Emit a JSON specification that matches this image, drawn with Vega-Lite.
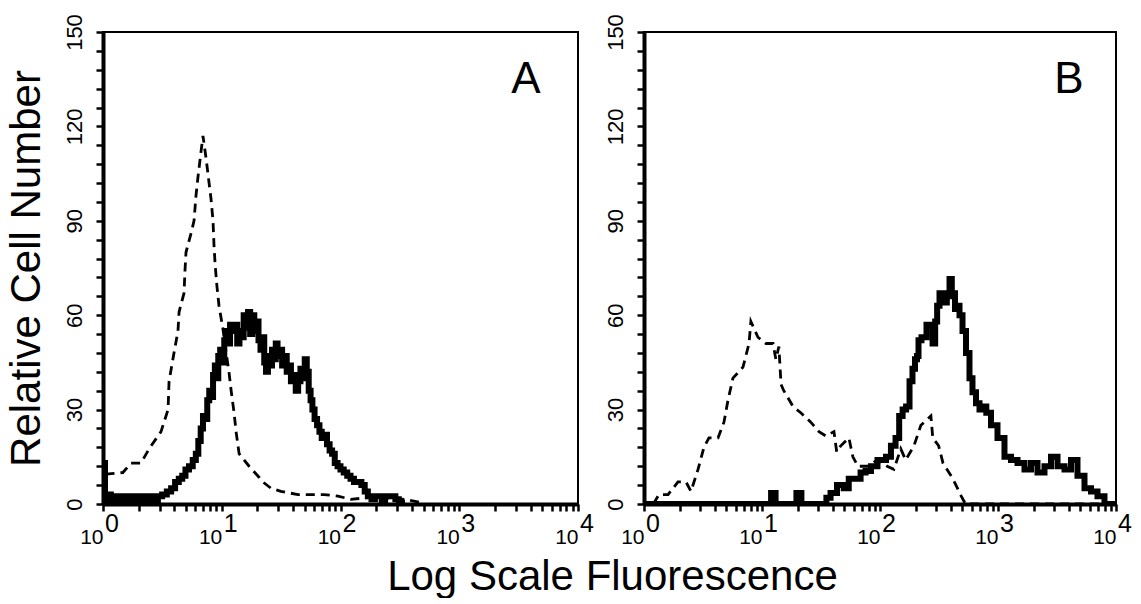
{
  "$schema": "https://vega.github.io/schema/vega-lite/v6.json",
  "background": "white",
  "padding": {"left": 3, "top": 12, "right": 0, "bottom": 0},
  "spacing": 66,
  "bounds": "flush",
  "config": {
    "font": "Liberation Sans",
    "view": {"stroke": "black", "strokeWidth": 2},
    "axis": {"domainColor": "black", "domainWidth": 4, "tickColor": "black", "tickWidth": 2.5, "tickSize": 7, "labelColor": "black", "labelFont": "Liberation Sans", "grid": false, "titleColor": "black", "titleFont": "Liberation Sans", "titleFontWeight": "normal", "labelOverlap": false, "labelFlush": false}
  },
  "title": {"text": "Log  Scale  Fluorescence", "orient": "bottom", "anchor": "middle", "fontSize": 42, "fontWeight": "normal", "font": "Liberation Sans", "color": "black", "offset": 9, "dx": 44},
  "datasets": {
    "hist": [
      {"panel":"A","series":"solid","x":1,"y":0},{"panel":"A","series":"solid","x":1.01,"y":13},{"panel":"A","series":"solid","x":1.03,"y":13},{"panel":"A","series":"solid","x":1.05,"y":3},{"panel":"A","series":"solid","x":1.08,"y":0},{"panel":"A","series":"solid","x":1.13,"y":3},{"panel":"A","series":"solid","x":1.2,"y":0},{"panel":"A","series":"solid","x":1.3,"y":2.5},{"panel":"A","series":"solid","x":1.4,"y":0},{"panel":"A","series":"solid","x":1.55,"y":2.5},{"panel":"A","series":"solid","x":1.7,"y":0},{"panel":"A","series":"solid","x":1.85,"y":2.5},{"panel":"A","series":"solid","x":2.0,"y":0},{"panel":"A","series":"solid","x":2.2,"y":2.5},{"panel":"A","series":"solid","x":2.4,"y":0.5},{"panel":"A","series":"solid","x":2.6,"y":2.5},{"panel":"A","series":"solid","x":2.8,"y":0.5},{"panel":"A","series":"solid","x":3.0,"y":2.5},{"panel":"A","series":"solid","x":3.3,"y":3},{"panel":"A","series":"solid","x":3.6,"y":4},{"panel":"A","series":"solid","x":3.9,"y":5},{"panel":"A","series":"solid","x":4.2,"y":7},{"panel":"A","series":"solid","x":4.5,"y":8},{"panel":"A","series":"solid","x":4.8,"y":9},{"panel":"A","series":"solid","x":5.1,"y":11},{"panel":"A","series":"solid","x":5.5,"y":12},{"panel":"A","series":"solid","x":5.9,"y":14},{"panel":"A","series":"solid","x":6.2,"y":16},{"panel":"A","series":"solid","x":6.5,"y":20},{"panel":"A","series":"solid","x":6.8,"y":24},{"panel":"A","series":"solid","x":7.1,"y":28},{"panel":"A","series":"solid","x":7.4,"y":27},{"panel":"A","series":"solid","x":7.7,"y":33},{"panel":"A","series":"solid","x":8.0,"y":36},{"panel":"A","series":"solid","x":8.3,"y":34},{"panel":"A","series":"solid","x":8.6,"y":41},{"panel":"A","series":"solid","x":8.9,"y":44},{"panel":"A","series":"solid","x":9.2,"y":40},{"panel":"A","series":"solid","x":9.5,"y":47},{"panel":"A","series":"solid","x":9.9,"y":49},{"panel":"A","series":"solid","x":10.3,"y":45},{"panel":"A","series":"solid","x":10.7,"y":52},{"panel":"A","series":"solid","x":11.1,"y":55},{"panel":"A","series":"solid","x":11.5,"y":51},{"panel":"A","series":"solid","x":12,"y":57},{"panel":"A","series":"solid","x":12.6,"y":55},{"panel":"A","series":"solid","x":13.2,"y":57},{"panel":"A","series":"solid","x":13.8,"y":51},{"panel":"A","series":"solid","x":14.4,"y":55},{"panel":"A","series":"solid","x":15,"y":53},{"panel":"A","series":"solid","x":15.6,"y":60},{"panel":"A","series":"solid","x":16.3,"y":56},{"panel":"A","series":"solid","x":17,"y":61},{"panel":"A","series":"solid","x":17.7,"y":54},{"panel":"A","series":"solid","x":18.4,"y":60},{"panel":"A","series":"solid","x":19.2,"y":55},{"panel":"A","series":"solid","x":20,"y":58},{"panel":"A","series":"solid","x":20.8,"y":52},{"panel":"A","series":"solid","x":21.6,"y":49},{"panel":"A","series":"solid","x":22.4,"y":53},{"panel":"A","series":"solid","x":23.2,"y":45},{"panel":"A","series":"solid","x":24,"y":42},{"panel":"A","series":"solid","x":25,"y":47},{"panel":"A","series":"solid","x":26,"y":44},{"panel":"A","series":"solid","x":27,"y":49},{"panel":"A","series":"solid","x":28,"y":46},{"panel":"A","series":"solid","x":29,"y":51},{"panel":"A","series":"solid","x":30,"y":47},{"panel":"A","series":"solid","x":31.5,"y":49},{"panel":"A","series":"solid","x":33,"y":44},{"panel":"A","series":"solid","x":34.5,"y":47},{"panel":"A","series":"solid","x":36,"y":42},{"panel":"A","series":"solid","x":37.5,"y":44},{"panel":"A","series":"solid","x":39,"y":39},{"panel":"A","series":"solid","x":41,"y":41},{"panel":"A","series":"solid","x":43,"y":36},{"panel":"A","series":"solid","x":45,"y":39},{"panel":"A","series":"solid","x":47,"y":43},{"panel":"A","series":"solid","x":49,"y":40},{"panel":"A","series":"solid","x":51,"y":46},{"panel":"A","series":"solid","x":53,"y":42},{"panel":"A","series":"solid","x":55,"y":36},{"panel":"A","series":"solid","x":57,"y":33},{"panel":"A","series":"solid","x":59,"y":30},{"panel":"A","series":"solid","x":62,"y":27},{"panel":"A","series":"solid","x":65,"y":25},{"panel":"A","series":"solid","x":68,"y":23},{"panel":"A","series":"solid","x":71,"y":21},{"panel":"A","series":"solid","x":75,"y":22},{"panel":"A","series":"solid","x":79,"y":19},{"panel":"A","series":"solid","x":83,"y":17},{"panel":"A","series":"solid","x":87,"y":16},{"panel":"A","series":"solid","x":92,"y":13},{"panel":"A","series":"solid","x":97,"y":12},{"panel":"A","series":"solid","x":103,"y":11},{"panel":"A","series":"solid","x":110,"y":10},{"panel":"A","series":"solid","x":118,"y":9},{"panel":"A","series":"solid","x":125,"y":8},{"panel":"A","series":"solid","x":135,"y":7},{"panel":"A","series":"solid","x":145,"y":7},{"panel":"A","series":"solid","x":155,"y":6},{"panel":"A","series":"solid","x":165,"y":4},{"panel":"A","series":"solid","x":175,"y":2.5},{"panel":"A","series":"solid","x":190,"y":1.5},{"panel":"A","series":"solid","x":200,"y":2.5},{"panel":"A","series":"solid","x":215,"y":2.5},{"panel":"A","series":"solid","x":230,"y":1},{"panel":"A","series":"solid","x":245,"y":2.5},{"panel":"A","series":"solid","x":260,"y":2.5},{"panel":"A","series":"solid","x":280,"y":2.5},{"panel":"A","series":"solid","x":300,"y":1.5},{"panel":"A","series":"solid","x":320,"y":0.5},{"panel":"A","series":"solid","x":340,"y":0},
      {"panel":"A","series":"control","x":1.05,"y":9.5},{"panel":"A","series":"control","x":1.47,"y":10},{"panel":"A","series":"control","x":1.72,"y":13},{"panel":"A","series":"control","x":2.09,"y":13},{"panel":"A","series":"control","x":2.44,"y":17.5},{"panel":"A","series":"control","x":3.08,"y":23},{"panel":"A","series":"control","x":3.53,"y":30},{"panel":"A","series":"control","x":3.6,"y":39},{"panel":"A","series":"control","x":3.96,"y":48},{"panel":"A","series":"control","x":4.28,"y":55},{"panel":"A","series":"control","x":4.37,"y":61},{"panel":"A","series":"control","x":4.81,"y":67},{"panel":"A","series":"control","x":4.9,"y":74},{"panel":"A","series":"control","x":5.0,"y":80},{"panel":"A","series":"control","x":5.51,"y":86},{"panel":"A","series":"control","x":5.84,"y":90},{"panel":"A","series":"control","x":6.07,"y":98},{"panel":"A","series":"control","x":6.31,"y":104},{"panel":"A","series":"control","x":6.69,"y":112},{"panel":"A","series":"control","x":6.95,"y":117},{"panel":"A","series":"control","x":7.37,"y":110},{"panel":"A","series":"control","x":8.12,"y":97},{"panel":"A","series":"control","x":8.44,"y":90},{"panel":"A","series":"control","x":8.61,"y":82},{"panel":"A","series":"control","x":8.8,"y":76},{"panel":"A","series":"control","x":9.12,"y":69},{"panel":"A","series":"control","x":9.48,"y":63},{"panel":"A","series":"control","x":10.2,"y":56},{"panel":"A","series":"control","x":10.9,"y":48},{"panel":"A","series":"control","x":11.5,"y":42},{"panel":"A","series":"control","x":12.0,"y":36},{"panel":"A","series":"control","x":12.7,"y":29},{"panel":"A","series":"control","x":13.2,"y":23},{"panel":"A","series":"control","x":14.0,"y":16},{"panel":"A","series":"control","x":17.0,"y":12},{"panel":"A","series":"control","x":20.6,"y":8.5},{"panel":"A","series":"control","x":22.2,"y":7},{"panel":"A","series":"control","x":26,"y":5},{"panel":"A","series":"control","x":31.5,"y":4},{"panel":"A","series":"control","x":43.9,"y":3},{"panel":"A","series":"control","x":56.3,"y":3},{"panel":"A","series":"control","x":72.6,"y":3},{"panel":"A","series":"control","x":95.3,"y":2.5},{"panel":"A","series":"control","x":122,"y":1.5},{"panel":"A","series":"control","x":171,"y":2},{"panel":"A","series":"control","x":232,"y":2},{"panel":"A","series":"control","x":343,"y":1.5},{"panel":"A","series":"control","x":476,"y":0.5},
      {"panel":"B","series":"solid","x":1,"y":0},{"panel":"B","series":"solid","x":11.5,"y":0},{"panel":"B","series":"solid","x":12.4,"y":3.5},{"panel":"B","series":"solid","x":13.7,"y":0},{"panel":"B","series":"solid","x":18.7,"y":0},{"panel":"B","series":"solid","x":20.5,"y":3.5},{"panel":"B","series":"solid","x":22.7,"y":0},{"panel":"B","series":"solid","x":34,"y":0},{"panel":"B","series":"solid","x":36.3,"y":2},{"panel":"B","series":"solid","x":40,"y":3.5},{"panel":"B","series":"solid","x":46.7,"y":6},{"panel":"B","series":"solid","x":52,"y":5},{"panel":"B","series":"solid","x":56.8,"y":8},{"panel":"B","series":"solid","x":65.1,"y":8},{"panel":"B","series":"solid","x":72,"y":10},{"panel":"B","series":"solid","x":79.1,"y":10.5},{"panel":"B","series":"solid","x":88.9,"y":12},{"panel":"B","series":"solid","x":102,"y":14},{"panel":"B","series":"solid","x":108,"y":14},{"panel":"B","series":"solid","x":117,"y":15},{"panel":"B","series":"solid","x":131,"y":18.5},{"panel":"B","series":"solid","x":140,"y":21},{"panel":"B","series":"solid","x":151,"y":28},{"panel":"B","series":"solid","x":160,"y":30},{"panel":"B","series":"solid","x":173,"y":31},{"panel":"B","series":"solid","x":183,"y":39},{"panel":"B","series":"solid","x":194,"y":43},{"panel":"B","series":"solid","x":202,"y":46},{"panel":"B","series":"solid","x":210,"y":47},{"panel":"B","series":"solid","x":214,"y":52},{"panel":"B","series":"solid","x":236,"y":53},{"panel":"B","series":"solid","x":260,"y":57},{"panel":"B","series":"solid","x":271,"y":57},{"panel":"B","series":"solid","x":287,"y":51},{"panel":"B","series":"solid","x":300,"y":58},{"panel":"B","series":"solid","x":310,"y":63},{"panel":"B","series":"solid","x":329,"y":67},{"panel":"B","series":"solid","x":360,"y":64},{"panel":"B","series":"solid","x":377,"y":67},{"panel":"B","series":"solid","x":400,"y":71.5},{"panel":"B","series":"solid","x":412,"y":66},{"panel":"B","series":"solid","x":424,"y":67},{"panel":"B","series":"solid","x":440,"y":62},{"panel":"B","series":"solid","x":458,"y":63},{"panel":"B","series":"solid","x":486,"y":60},{"panel":"B","series":"solid","x":515,"y":55},{"panel":"B","series":"solid","x":557,"y":48},{"panel":"B","series":"solid","x":590,"y":40},{"panel":"B","series":"solid","x":626,"y":35.5},{"panel":"B","series":"solid","x":677,"y":32},{"panel":"B","series":"solid","x":718,"y":30},{"panel":"B","series":"solid","x":770,"y":31},{"panel":"B","series":"solid","x":823,"y":29},{"panel":"B","series":"solid","x":925,"y":25},{"panel":"B","series":"solid","x":1060,"y":21},{"panel":"B","series":"solid","x":1215,"y":15},{"panel":"B","series":"solid","x":1367,"y":14},{"panel":"B","series":"solid","x":1567,"y":13},{"panel":"B","series":"solid","x":1795,"y":11},{"panel":"B","series":"solid","x":2018,"y":13},{"panel":"B","series":"solid","x":2313,"y":10},{"panel":"B","series":"solid","x":2653,"y":12},{"panel":"B","series":"solid","x":2985,"y":15},{"panel":"B","series":"solid","x":3420,"y":12},{"panel":"B","series":"solid","x":3920,"y":11},{"panel":"B","series":"solid","x":4405,"y":14},{"panel":"B","series":"solid","x":5050,"y":9},{"panel":"B","series":"solid","x":5790,"y":5},{"panel":"B","series":"solid","x":6510,"y":4},{"panel":"B","series":"solid","x":7460,"y":2.5},{"panel":"B","series":"solid","x":8550,"y":0},{"panel":"B","series":"solid","x":10000,"y":0},
      {"panel":"B","series":"control","x":1.2,"y":0},{"panel":"B","series":"control","x":1.34,"y":3},{"panel":"B","series":"control","x":1.6,"y":3},{"panel":"B","series":"control","x":1.94,"y":7},{"panel":"B","series":"control","x":2.27,"y":7},{"panel":"B","series":"control","x":2.5,"y":4},{"panel":"B","series":"control","x":2.87,"y":11},{"panel":"B","series":"control","x":3.22,"y":18},{"panel":"B","series":"control","x":3.55,"y":21},{"panel":"B","series":"control","x":4.24,"y":21},{"panel":"B","series":"control","x":4.76,"y":26},{"panel":"B","series":"control","x":5.15,"y":33},{"panel":"B","series":"control","x":5.67,"y":40},{"panel":"B","series":"control","x":6.9,"y":43.5},{"panel":"B","series":"control","x":7.76,"y":51},{"panel":"B","series":"control","x":8.05,"y":58},{"panel":"B","series":"control","x":9.24,"y":53},{"panel":"B","series":"control","x":10.8,"y":51},{"panel":"B","series":"control","x":12.4,"y":51},{"panel":"B","series":"control","x":13.1,"y":46},{"panel":"B","series":"control","x":13.9,"y":50},{"panel":"B","series":"control","x":14.5,"y":38},{"panel":"B","series":"control","x":15.3,"y":36},{"panel":"B","series":"control","x":18.3,"y":31},{"panel":"B","series":"control","x":21.3,"y":29},{"panel":"B","series":"control","x":25.9,"y":26},{"panel":"B","series":"control","x":30.4,"y":23},{"panel":"B","series":"control","x":34.8,"y":21.6},{"panel":"B","series":"control","x":40.7,"y":23},{"panel":"B","series":"control","x":43,"y":16.5},{"panel":"B","series":"control","x":46.5,"y":18.5},{"panel":"B","series":"control","x":54.5,"y":21},{"panel":"B","series":"control","x":58.9,"y":15},{"panel":"B","series":"control","x":65,"y":12},{"panel":"B","series":"control","x":79,"y":12},{"panel":"B","series":"control","x":95,"y":14},{"panel":"B","series":"control","x":115,"y":12},{"panel":"B","series":"control","x":131,"y":11},{"panel":"B","series":"control","x":150,"y":17.5},{"panel":"B","series":"control","x":165,"y":14},{"panel":"B","series":"control","x":194,"y":18.5},{"panel":"B","series":"control","x":222,"y":25},{"panel":"B","series":"control","x":270,"y":28},{"panel":"B","series":"control","x":280,"y":21},{"panel":"B","series":"control","x":314,"y":18.5},{"panel":"B","series":"control","x":342,"y":13},{"panel":"B","series":"control","x":415,"y":8},{"panel":"B","series":"control","x":488,"y":2.5},{"panel":"B","series":"control","x":530,"y":0},{"panel":"B","series":"control","x":10000,"y":0}
    ],
    "letters": [
      {"panel":"A","x":3650,"y":130.6,"t":"A"},
      {"panel":"B","x":4000,"y":130.6,"t":"B"}
    ],
    "exps": [
      {"x":1,"y":0,"e":"0"},{"x":10,"y":0,"e":"1"},{"x":100,"y":0,"e":"2"},{"x":1000,"y":0,"e":"3"},{"x":10000,"y":0,"e":"4"}
    ]
  },
  "hconcat": [
    {
      "width": 475, "height": 472,
      "encoding": {
        "x": {"field": "x", "type": "quantitative", "scale": {"type": "log", "domain": [1, 10000], "nice": false},
          "axis": {"title": null, "values": [1,2,3,4,5,6,7,8,9,10,20,30,40,50,60,70,80,90,100,200,300,400,500,600,700,800,900,1000,2000,3000,4000,5000,6000,7000,8000,9000,10000],
            "labelExpr": "(datum.value == 1 || datum.value == 10 || datum.value == 100 || datum.value == 1000 || datum.value == 10000) ? '10' : ''",
            "labelAlign": "right", "labelBaseline": "alphabetic", "labelPadding": 32, "labelFontSize": 21}},
        "y": {"field": "y", "type": "quantitative", "scale": {"domain": [0, 150], "nice": false},
          "axis": {"title": "Relative Cell Number", "titleFontSize": 42, "titleAngle": -90, "titleX": -64, "titleY": 236, "titleBaseline": "alphabetic", "titleAlign": "center",
            "values": [0,6,12,18,24,30,36,42,48,54,60,66,72,78,84,90,96,102,108,114,120,126,132,138,144,150],
            "labelExpr": "datum.value % 30 == 0 ? datum.label : ''",
            "labelAngle": -90, "labelAlign": "center", "labelBaseline": "alphabetic", "labelPadding": 15, "labelFontSize": 22}}
      },
      "layer": [
        {"data": {"name": "hist"}, "transform": [{"filter": "datum.panel == 'A' && datum.series == 'control'"}],
         "mark": {"type": "line", "color": "black", "strokeWidth": 2.8, "strokeDash": [9, 6], "clip": true}},
        {"data": {"name": "hist"}, "transform": [{"filter": "datum.panel == 'A' && datum.series == 'solid'"}],
         "mark": {"type": "line", "color": "black", "strokeWidth": 6, "interpolate": "step", "strokeJoin": "miter", "clip": true}},
        {"data": {"name": "letters"}, "transform": [{"filter": "datum.panel == 'A'"}],
         "mark": {"type": "text", "fontSize": 44, "align": "center", "baseline": "alphabetic", "color": "black"},
         "encoding": {"text": {"field": "t"}}},
        {"data": {"name": "exps"},
         "mark": {"type": "text", "fontSize": 25, "align": "left", "baseline": "alphabetic", "dx": 2, "dy": 28, "color": "black"},
         "encoding": {"text": {"field": "e"}}}
      ]
    },
    {
      "width": 472, "height": 472,
      "encoding": {
        "x": {"field": "x", "type": "quantitative", "scale": {"type": "log", "domain": [1, 10000], "nice": false},
          "axis": {"title": null, "values": [1,2,3,4,5,6,7,8,9,10,20,30,40,50,60,70,80,90,100,200,300,400,500,600,700,800,900,1000,2000,3000,4000,5000,6000,7000,8000,9000,10000],
            "labelExpr": "(datum.value == 1 || datum.value == 10 || datum.value == 100 || datum.value == 1000 || datum.value == 10000) ? '10' : ''",
            "labelAlign": "right", "labelBaseline": "alphabetic", "labelPadding": 32, "labelFontSize": 21}},
        "y": {"field": "y", "type": "quantitative", "scale": {"domain": [0, 150], "nice": false},
          "axis": {"title": null,
            "values": [0,6,12,18,24,30,36,42,48,54,60,66,72,78,84,90,96,102,108,114,120,126,132,138,144,150],
            "labelExpr": "datum.value % 30 == 0 ? datum.label : ''",
            "labelAngle": -90, "labelAlign": "center", "labelBaseline": "alphabetic", "labelPadding": 15, "labelFontSize": 22}}
      },
      "layer": [
        {"data": {"name": "hist"}, "transform": [{"filter": "datum.panel == 'B' && datum.series == 'control'"}],
         "mark": {"type": "line", "color": "black", "strokeWidth": 2.8, "strokeDash": [9, 6], "clip": true}},
        {"data": {"name": "hist"}, "transform": [{"filter": "datum.panel == 'B' && datum.series == 'solid'"}],
         "mark": {"type": "line", "color": "black", "strokeWidth": 6, "interpolate": "step", "strokeJoin": "miter", "clip": true}},
        {"data": {"name": "letters"}, "transform": [{"filter": "datum.panel == 'B'"}],
         "mark": {"type": "text", "fontSize": 44, "align": "center", "baseline": "alphabetic", "color": "black"},
         "encoding": {"text": {"field": "t"}}},
        {"data": {"name": "exps"},
         "mark": {"type": "text", "fontSize": 25, "align": "left", "baseline": "alphabetic", "dx": 2, "dy": 28, "color": "black"},
         "encoding": {"text": {"field": "e"}}}
      ]
    }
  ]
}
